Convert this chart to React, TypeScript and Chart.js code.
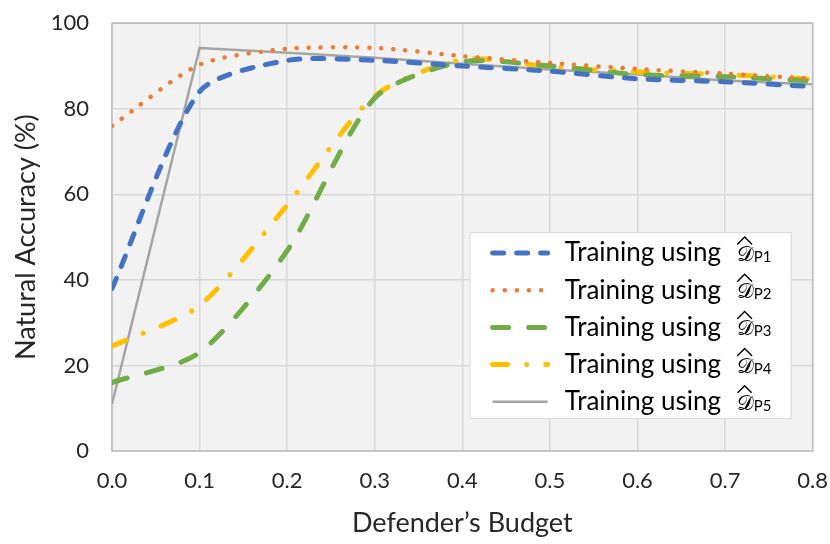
import { useEffect, useRef } from 'react';
import { Chart, registerables } from 'chart.js';

Chart.register(...registerables);

// Defender's budget on the x axis
const budgets = [0, 0.1, 0.2, 0.3, 0.4, 0.5, 0.6, 0.7, 0.8];

// Natural accuracy (%) per training set
const accP1 = [38, 84, 91.3, 91.3, 90, 88.8, 87, 86.3, 85.2];
const accP2 = [76, 90.3, 94, 94.2, 92.3, 90.7, 89.3, 88.2, 87];
const accP3 = [16, 23, 46.8, 82.5, 91, 90, 88, 87.5, 86.5];
const accP4 = [24.5, 34, 57.5, 83, 91.5, 89.8, 88.6, 88, 86.9];
const accP5 = [11, 94.2, 93.1, 91.9, 90.5, 89.2, 88, 86.6, 85.7];

const subscripts = ['P1', 'P2', 'P3', 'P4', 'P5'];
const FONT = 'Lato, "Open Sans", sans-serif';

const styles = [
  { color: '#4472c4', width: 5, dash: [11, 13], tension: 0.25 },
  { color: '#ed7d31', width: 4.5, dash: [0.1, 12], tension: 0.25 },
  { color: '#70ad47', width: 5, dash: [16, 20], tension: 0.25 },
  { color: '#ffc000', width: 5, dash: [15, 19, 0.1, 19], tension: 0.25 },
  { color: '#a5a5a5', width: 2.5, dash: [], tension: 0 },
];

const areaPlugin = {
  id: 'areaBg',
  beforeDraw(chart: any) {
    const { ctx, chartArea: a } = chart;
    ctx.save();
    ctx.fillStyle = '#f2f2f2';
    ctx.fillRect(a.left, a.top, a.right - a.left, a.bottom - a.top);
    ctx.restore();
  },
  beforeDatasetsDraw(chart: any) {
    const { ctx, chartArea: a } = chart;
    ctx.save();
    ctx.strokeStyle = '#bfbfbf';
    ctx.lineWidth = 1.5;
    ctx.strokeRect(a.left, a.top, a.right - a.left, a.bottom - a.top);
    ctx.restore();
  },
};

// Excel-like legend box with a hatted calligraphic D
const legendPlugin = {
  id: 'boxLegend',
  afterDraw(chart: any) {
    const { ctx, chartArea: a } = chart;
    const w = 321;
    const h = 186;
    const x0 = a.right - 22 - w;
    const y0 = a.bottom - 33 - h;
    ctx.save();
    ctx.fillStyle = '#ffffff';
    ctx.fillRect(x0, y0, w, h);
    ctx.strokeStyle = '#d9d9d9';
    ctx.lineWidth = 1;
    ctx.strokeRect(x0 + 0.5, y0 + 0.5, w, h);
    chart.data.datasets.forEach((ds: any, i: number) => {
      const cy = y0 + 21 + i * 37.2;
      ctx.beginPath();
      ctx.strokeStyle = ds.borderColor;
      ctx.lineWidth = ds.borderWidth;
      ctx.lineCap = ds.borderDash.length ? 'round' : 'butt';
      ctx.setLineDash(ds.borderDash);
      ctx.moveTo(x0 + 23, cy);
      ctx.lineTo(x0 + 78, cy);
      ctx.stroke();
      ctx.setLineDash([]);
      ctx.fillStyle = '#000000';
      ctx.textBaseline = 'middle';
      ctx.textAlign = 'left';
      ctx.font = `26px ${FONT}`;
      ctx.fillText('Training using', x0 + 95, cy);
      const dx = x0 + 267;
      ctx.textBaseline = 'alphabetic';
      ctx.font = '21px "DejaVu Serif", serif';
      ctx.fillText('\u{1D49F}', dx, cy + 8);
      ctx.beginPath();
      ctx.strokeStyle = '#000000';
      ctx.lineWidth = 1.4;
      ctx.moveTo(dx + 1, cy - 9);
      ctx.lineTo(dx + 8, cy - 16);
      ctx.lineTo(dx + 15, cy - 9);
      ctx.stroke();
      ctx.font = `15px ${FONT}`;
      ctx.fillText(subscripts[i], dx + 17, cy + 9);
    });
    ctx.restore();
  },
};

export default function App() {
  const canvasRef = useRef<HTMLCanvasElement>(null);
  const chartRef = useRef<Chart | null>(null);

  useEffect(() => {
    if (!canvasRef.current) return;
    if (chartRef.current) chartRef.current.destroy();

    const series = [accP1, accP2, accP3, accP4, accP5];

    chartRef.current = new Chart(canvasRef.current, {
      type: 'line',
      data: {
        datasets: series.map((vals, i) => ({
          label: 'Training using D' + subscripts[i],
          data: budgets.map((b, j) => ({ x: b, y: vals[j] })),
          borderColor: styles[i].color,
          backgroundColor: styles[i].color,
          borderWidth: styles[i].width,
          borderDash: styles[i].dash,
          borderCapStyle: styles[i].dash.length ? 'round' : 'butt',
          borderJoinStyle: 'round',
          tension: styles[i].tension,
          pointRadius: 0,
          fill: false,
        })),
      },
      options: {
        responsive: false,
        animation: false,
        layout: { padding: { top: 0, right: 0, left: 0, bottom: 0 } },
        plugins: {
          legend: { display: false },
          tooltip: { enabled: false },
        },
        scales: {
          x: {
            type: 'linear',
            min: 0,
            max: 0.8,
            afterFit: (s: any) => { s.height = 93; },
            ticks: {
              stepSize: 0.1,
              color: '#262626',
              font: { family: FONT, size: 22 },
              padding: 2,
              callback: (v: any) => Number(v).toFixed(1),
            },
            grid: {
              color: '#d9d9d9',
              lineWidth: 1.5,
              drawTicks: true,
              tickLength: 15,
              tickColor: 'rgba(0,0,0,0)',
            },
            border: { display: false },
            title: {
              display: true,
              text: 'Defender’s Budget',
              color: '#262626',
              font: { family: FONT, size: 27 },
              padding: { top: 0, bottom: 5 },
            },
          },
          y: {
            min: 0,
            max: 100,
            afterFit: (s: any) => { s.width = 112; },
            ticks: {
              stepSize: 20,
              color: '#262626',
              font: { family: FONT, size: 22 },
              padding: 10,
            },
            grid: {
              color: '#d9d9d9',
              lineWidth: 1.5,
              drawTicks: true,
              tickLength: 13,
              tickColor: 'rgba(0,0,0,0)',
            },
            border: { display: false },
            title: {
              display: true,
              text: 'Natural Accuracy (%)',
              color: '#262626',
              font: { family: FONT, size: 27 },
              padding: { top: 10, bottom: 0 },
            },
          },
        },
      },
      plugins: [areaPlugin, legendPlugin],
    } as any);

    return () => {
      if (chartRef.current) {
        chartRef.current.destroy();
        chartRef.current = null;
      }
    };
  }, []);

  return (
    <div style={{ position: 'absolute', left: 0, top: 0, width: 830, height: 544, background: '#ffffff' }}>
      <canvas ref={canvasRef} width={830} height={544}></canvas>
    </div>
  );
}
